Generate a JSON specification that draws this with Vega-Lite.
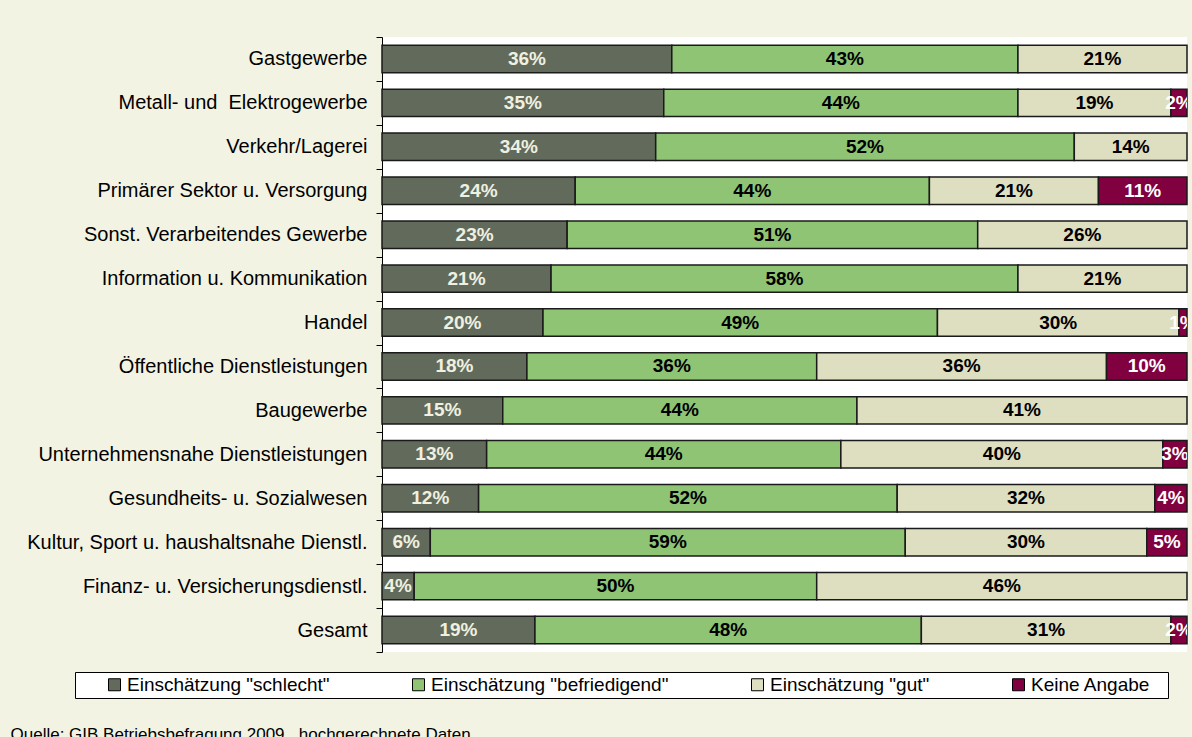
{
  "$schema": "https://vega.github.io/schema/vega-lite/v6.json",
  "width": 805,
  "height": 615,
  "autosize": {"type": "none"},
  "padding": {"left": 382, "top": 37, "right": 5, "bottom": 85},
  "background": "#f3f3e3",
  "config": {"view": {"fill": "white", "stroke": null}, "font": "Liberation Sans"},
  "data": {"values": [
    {"branche": "Gastgewerbe", "rating": "Einschätzung \"schlecht\"", "k": 1, "v": 0.36},
    {"branche": "Gastgewerbe", "rating": "Einschätzung \"befriedigend\"", "k": 2, "v": 0.43},
    {"branche": "Gastgewerbe", "rating": "Einschätzung \"gut\"", "k": 3, "v": 0.21},
    {"branche": "Metall- und\u00a0 Elektrogewerbe", "rating": "Einschätzung \"schlecht\"", "k": 1, "v": 0.35},
    {"branche": "Metall- und\u00a0 Elektrogewerbe", "rating": "Einschätzung \"befriedigend\"", "k": 2, "v": 0.44},
    {"branche": "Metall- und\u00a0 Elektrogewerbe", "rating": "Einschätzung \"gut\"", "k": 3, "v": 0.19},
    {"branche": "Metall- und\u00a0 Elektrogewerbe", "rating": "Keine Angabe", "k": 4, "v": 0.02},
    {"branche": "Verkehr/Lagerei", "rating": "Einschätzung \"schlecht\"", "k": 1, "v": 0.34},
    {"branche": "Verkehr/Lagerei", "rating": "Einschätzung \"befriedigend\"", "k": 2, "v": 0.52},
    {"branche": "Verkehr/Lagerei", "rating": "Einschätzung \"gut\"", "k": 3, "v": 0.14},
    {"branche": "Primärer Sektor u. Versorgung", "rating": "Einschätzung \"schlecht\"", "k": 1, "v": 0.24},
    {"branche": "Primärer Sektor u. Versorgung", "rating": "Einschätzung \"befriedigend\"", "k": 2, "v": 0.44},
    {"branche": "Primärer Sektor u. Versorgung", "rating": "Einschätzung \"gut\"", "k": 3, "v": 0.21},
    {"branche": "Primärer Sektor u. Versorgung", "rating": "Keine Angabe", "k": 4, "v": 0.11},
    {"branche": "Sonst. Verarbeitendes Gewerbe", "rating": "Einschätzung \"schlecht\"", "k": 1, "v": 0.23},
    {"branche": "Sonst. Verarbeitendes Gewerbe", "rating": "Einschätzung \"befriedigend\"", "k": 2, "v": 0.51},
    {"branche": "Sonst. Verarbeitendes Gewerbe", "rating": "Einschätzung \"gut\"", "k": 3, "v": 0.26},
    {"branche": "Information u. Kommunikation", "rating": "Einschätzung \"schlecht\"", "k": 1, "v": 0.21},
    {"branche": "Information u. Kommunikation", "rating": "Einschätzung \"befriedigend\"", "k": 2, "v": 0.58},
    {"branche": "Information u. Kommunikation", "rating": "Einschätzung \"gut\"", "k": 3, "v": 0.21},
    {"branche": "Handel", "rating": "Einschätzung \"schlecht\"", "k": 1, "v": 0.20},
    {"branche": "Handel", "rating": "Einschätzung \"befriedigend\"", "k": 2, "v": 0.49},
    {"branche": "Handel", "rating": "Einschätzung \"gut\"", "k": 3, "v": 0.30},
    {"branche": "Handel", "rating": "Keine Angabe", "k": 4, "v": 0.01},
    {"branche": "Öffentliche Dienstleistungen", "rating": "Einschätzung \"schlecht\"", "k": 1, "v": 0.18},
    {"branche": "Öffentliche Dienstleistungen", "rating": "Einschätzung \"befriedigend\"", "k": 2, "v": 0.36},
    {"branche": "Öffentliche Dienstleistungen", "rating": "Einschätzung \"gut\"", "k": 3, "v": 0.36},
    {"branche": "Öffentliche Dienstleistungen", "rating": "Keine Angabe", "k": 4, "v": 0.10},
    {"branche": "Baugewerbe", "rating": "Einschätzung \"schlecht\"", "k": 1, "v": 0.15},
    {"branche": "Baugewerbe", "rating": "Einschätzung \"befriedigend\"", "k": 2, "v": 0.44},
    {"branche": "Baugewerbe", "rating": "Einschätzung \"gut\"", "k": 3, "v": 0.41},
    {"branche": "Unternehmensnahe Dienstleistungen", "rating": "Einschätzung \"schlecht\"", "k": 1, "v": 0.13},
    {"branche": "Unternehmensnahe Dienstleistungen", "rating": "Einschätzung \"befriedigend\"", "k": 2, "v": 0.44},
    {"branche": "Unternehmensnahe Dienstleistungen", "rating": "Einschätzung \"gut\"", "k": 3, "v": 0.40},
    {"branche": "Unternehmensnahe Dienstleistungen", "rating": "Keine Angabe", "k": 4, "v": 0.03},
    {"branche": "Gesundheits- u. Sozialwesen", "rating": "Einschätzung \"schlecht\"", "k": 1, "v": 0.12},
    {"branche": "Gesundheits- u. Sozialwesen", "rating": "Einschätzung \"befriedigend\"", "k": 2, "v": 0.52},
    {"branche": "Gesundheits- u. Sozialwesen", "rating": "Einschätzung \"gut\"", "k": 3, "v": 0.32},
    {"branche": "Gesundheits- u. Sozialwesen", "rating": "Keine Angabe", "k": 4, "v": 0.04},
    {"branche": "Kultur, Sport u. haushaltsnahe Dienstl.", "rating": "Einschätzung \"schlecht\"", "k": 1, "v": 0.06},
    {"branche": "Kultur, Sport u. haushaltsnahe Dienstl.", "rating": "Einschätzung \"befriedigend\"", "k": 2, "v": 0.59},
    {"branche": "Kultur, Sport u. haushaltsnahe Dienstl.", "rating": "Einschätzung \"gut\"", "k": 3, "v": 0.30},
    {"branche": "Kultur, Sport u. haushaltsnahe Dienstl.", "rating": "Keine Angabe", "k": 4, "v": 0.05},
    {"branche": "Finanz- u. Versicherungsdienstl.", "rating": "Einschätzung \"schlecht\"", "k": 1, "v": 0.04},
    {"branche": "Finanz- u. Versicherungsdienstl.", "rating": "Einschätzung \"befriedigend\"", "k": 2, "v": 0.50},
    {"branche": "Finanz- u. Versicherungsdienstl.", "rating": "Einschätzung \"gut\"", "k": 3, "v": 0.46},
    {"branche": "Gesamt", "rating": "Einschätzung \"schlecht\"", "k": 1, "v": 0.19},
    {"branche": "Gesamt", "rating": "Einschätzung \"befriedigend\"", "k": 2, "v": 0.48},
    {"branche": "Gesamt", "rating": "Einschätzung \"gut\"", "k": 3, "v": 0.31},
    {"branche": "Gesamt", "rating": "Keine Angabe", "k": 4, "v": 0.02}
  ]},
  "transform": [
    {"stack": "v", "groupby": ["branche"], "sort": [{"field": "k", "order": "ascending"}], "as": ["v0", "v1"]},
    {"calculate": "(datum.v0 + datum.v1) / 2", "as": "vm"}
  ],
  "encoding": {
    "y": {
      "field": "branche",
      "type": "nominal",
      "sort": ["Gastgewerbe", "Metall- und\u00a0 Elektrogewerbe", "Verkehr/Lagerei", "Primärer Sektor u. Versorgung", "Sonst. Verarbeitendes Gewerbe", "Information u. Kommunikation", "Handel", "Öffentliche Dienstleistungen", "Baugewerbe", "Unternehmensnahe Dienstleistungen", "Gesundheits- u. Sozialwesen", "Kultur, Sport u. haushaltsnahe Dienstl.", "Finanz- u. Versicherungsdienstl.", "Gesamt"],
      "scale": {"paddingInner": 0, "paddingOuter": 0},
      "axis": {
        "title": null,
        "labelFontSize": 20,
        "labelColor": "black",
        "labelPadding": 9,
        "labelLimit": 500,
        "tickSize": 6,
        "tickColor": "black",
        "domainColor": "black",
        "tickBand": "extent",
        "grid": false
      }
    }
  },
  "layer": [
    {
      "mark": {"type": "bar", "height": {"band": 0.625}, "stroke": "#1a1a1a", "strokeWidth": 1.5},
      "encoding": {
        "x": {
          "field": "v0",
          "type": "quantitative",
          "scale": {"domain": [0, 1], "nice": false},
          "axis": {
            "domain": false, "ticks": false, "labels": false, "grid": false,
            "title": "Quelle: GIB Betriebsbefragung 2009 , hochgerechnete Daten",
            "titleX": -372, "titleY": 87, "titleAlign": "left", "titleBaseline": "alphabetic",
            "titleFontSize": 17, "titleFontWeight": "normal", "titleColor": "black"
          }
        },
        "x2": {"field": "v1"},
        "color": {
          "field": "rating",
          "type": "nominal",
          "scale": {
            "domain": ["Einschätzung \"schlecht\"", "Einschätzung \"befriedigend\"", "Einschätzung \"gut\"", "Keine Angabe"],
            "range": ["#626b5b", "#8fc475", "#dedfc1", "#800040"]
          },
          "legend": {
            "orient": "none", "legendX": -307, "legendY": 635,
            "direction": "horizontal",
            "title": " ", "titleOrient": "left", "titlePadding": 27, "titleFontSize": 19,
            "padding": 3, "fillColor": "white", "strokeColor": "black",
            "labelFontSize": 19, "labelColor": "black", "labelOffset": 3, "labelLimit": 500,
            "labelExpr": "datum.label == 'Keine Angabe' ? 'Keine Angabe\u2800' : datum.label",
            "symbolType": "square", "symbolSize": 144, "symbolStrokeColor": "black", "symbolStrokeWidth": 1, "symbolOpacity": 1,
            "columnPadding": 79
          }
        }
      }
    },
    {
      "mark": {"type": "text", "fontWeight": "bold", "fontSize": 19, "clip": true},
      "encoding": {
        "x": {"field": "vm", "type": "quantitative"},
        "text": {"field": "v", "type": "quantitative", "format": ".0%"},
        "color": {
          "condition": [
            {"test": "datum.rating == 'Einschätzung \"schlecht\"'", "value": "#f0f0e0"},
            {"test": "datum.rating == 'Keine Angabe'", "value": "white"}
          ],
          "value": "black"
        }
      }
    }
  ]
}
